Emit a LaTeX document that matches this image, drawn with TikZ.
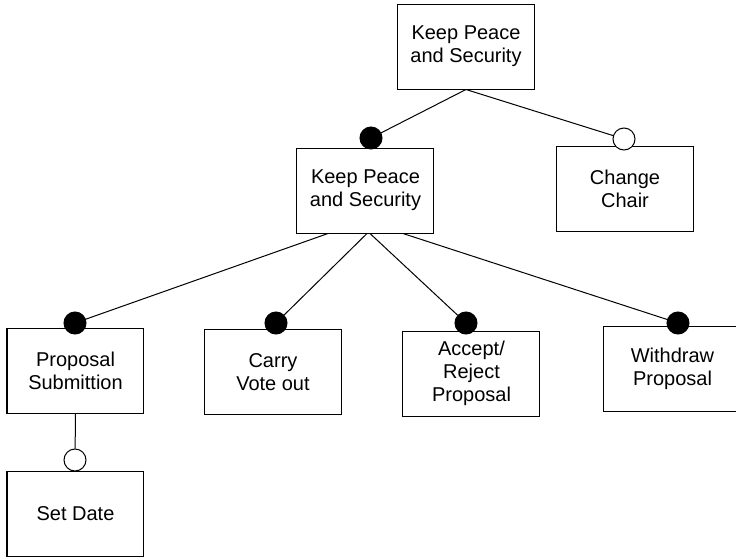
\documentclass[tikz,border=0pt]{standalone}
\usepackage{fontspec}
\setmainfont{Liberation Sans}
\begin{document}
\begin{tikzpicture}[x=0.5pt, y=-0.5pt, line width=0.5pt,
    every node/.style={font=\fontsize{10}{11.5}\selectfont},
    goalbox/.style={draw, rectangle, minimum width=68.5pt, minimum height=42.5pt, inner sep=0pt, align=center},
    fulldot/.style={draw, circle, fill=black, minimum size=11pt, inner sep=0pt},
    opendot/.style={draw, circle, fill=white, minimum size=11pt, inner sep=0pt}]
    \useasboundingbox (0,0) rectangle (736,558);
    \node[goalbox] (keepTop) at (466, 46.5) {Keep Peace\\and Security};
    \node[goalbox] (keepMid) at (365.5, 190.5) {Keep Peace\\and Security};
    \node[goalbox] (chair) at (625, 189) {Change\\Chair};
    \node[goalbox] (propSub) at (75.5, 371) {Proposal\\Submittion};
    \node[goalbox] (carry) at (273, 372) {Carry\\Vote out};
    \node[goalbox] (accept) at (471.5, 373.5) {Accept/\\Reject\\Proposal};
    \node[goalbox] (withdraw) at (672.5, 368.5) {Withdraw\\Proposal};
    \node[goalbox] (setDate) at (75.5, 513.5) {Set Date};
    \node[fulldot] (dMid) at (371, 138) {};
    \node[opendot] (dChair) at (624, 139) {};
    \node[fulldot] (dProp) at (75, 323) {};
    \node[fulldot] (dCarry) at (276, 323) {};
    \node[fulldot] (dAccept) at (466, 323) {};
    \node[fulldot] (dWithdraw) at (678, 323) {};
    \node[opendot] (dDate) at (75, 460) {};
    \draw (keepTop.south) -- (dMid);
    \draw (keepTop.south) -- (dChair);
    \draw ([xshift=-18.75pt]keepMid.south) -- (dProp);
    \draw ([xshift=0.75pt]keepMid.south) -- (dCarry);
    \draw ([xshift=2.25pt]keepMid.south) -- (dAccept);
    \draw ([xshift=18.75pt]keepMid.south) -- (dWithdraw);
    \draw (propSub.south) -- (dDate);
\end{tikzpicture}
\end{document}
